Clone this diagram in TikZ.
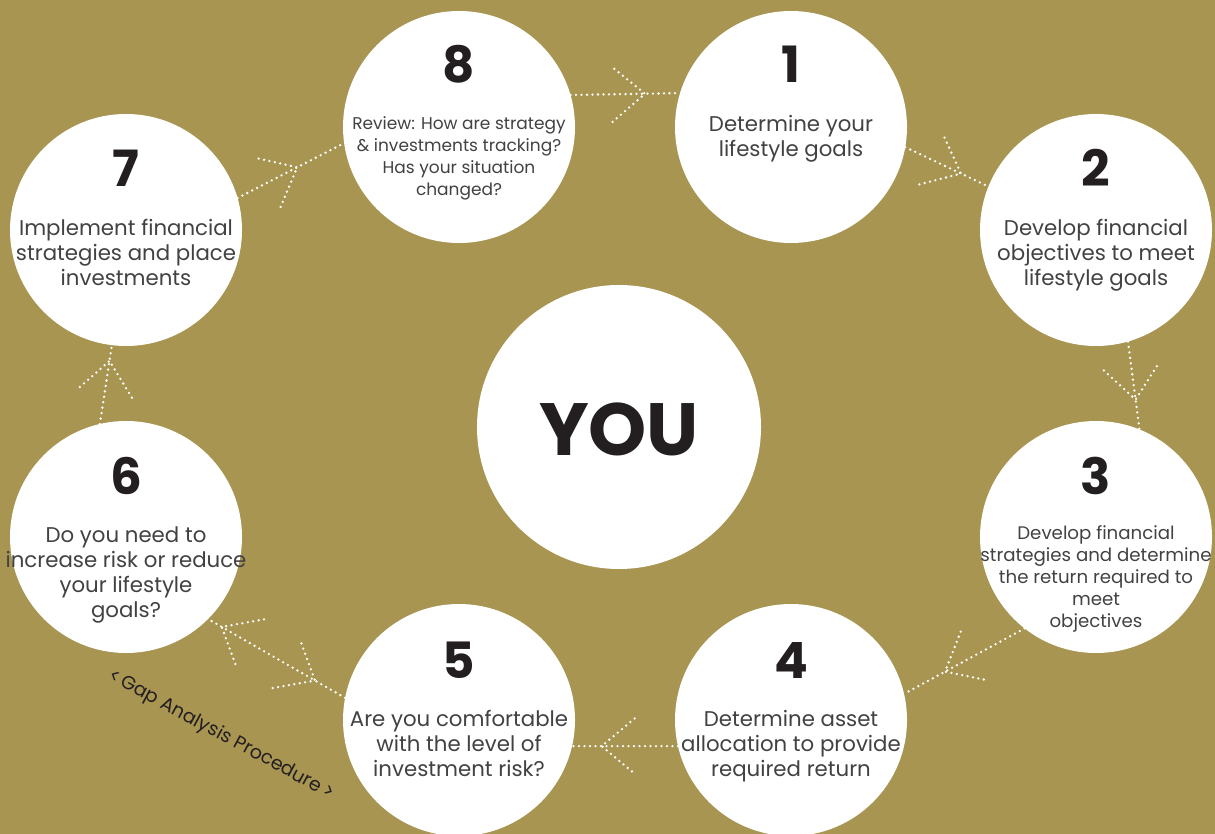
\documentclass[tikz,border=0pt]{standalone}
\usepackage{fontspec}
\setmainfont{Poppins}
\usetikzlibrary{calc}
\definecolor{bg}{RGB}{168,149,82}
\definecolor{txt}{RGB}{66,66,66}
\definecolor{num}{RGB}{35,31,32}
\tikzset{
  stepcircle/.style={circle, fill=white, minimum size=232pt, inner sep=0pt, outer sep=0pt},
  numlabel/.style={anchor=base, inner sep=0pt, font=\fontsize{50}{50}\selectfont\bfseries, text=num},
  desc/.style={anchor=north, align=center, inner sep=0pt, font=\fontsize{21.3}{25}\selectfont, text=txt},
  descsmall/.style={anchor=north, align=center, inner sep=0pt, font=\fontsize{17}{22}\selectfont, text=txt},
  dotline/.style={draw=white, line width=2.6pt, line cap=round, dash pattern=on 0pt off 5.5pt},
}
\newcommand{\dotarrow}[3]{%
  \draw[dotline] (#1) -- (#2);
  \coordinate (tip) at ($(#1)!#3!(#2)$);
  \draw[dotline] ($(tip)!43pt!40:(#1)$) -- (tip) -- ($(tip)!43pt!-40:(#1)$);
}
\newcommand{\dothead}[3]{%
  \coordinate (tip) at ($(#1)!#3!(#2)$);
  \draw[dotline] ($(tip)!43pt!40:(#1)$) -- (tip) -- ($(tip)!43pt!-40:(#1)$);
}
\begin{document}
\begin{tikzpicture}[x=1pt,y=-1pt]
\fill[bg] (0,0) rectangle (1215,834);
\useasboundingbox (0,0) rectangle (1215,834);

% circles
\node[stepcircle] (c1) at (791,127) {};
\node[stepcircle] (c2) at (1096,230) {};
\node[stepcircle] (c3) at (1096,537) {};
\node[stepcircle] (c4) at (791,720) {};
\node[stepcircle] (c5) at (459,720) {};
\node[stepcircle] (c6) at (126,537) {};
\node[stepcircle] (c7) at (126,230) {};
\node[stepcircle] (c8) at (459,127) {};
\node[circle, fill=white, minimum size=284pt, inner sep=0pt] (you) at (619,427) {};
\node[anchor=base, inner sep=0pt, font=\fontsize{74}{74}\selectfont\bfseries, text=num] (youtxt) at (619,455) {YOU};

% numbers
\node[numlabel] (n1) at (791,83) {1};
\node[numlabel] (n2) at (1096,187) {2};
\node[numlabel] (n3) at (1096,494) {3};
\node[numlabel] (n4) at (791,678) {4};
\node[numlabel] (n5) at (459,678) {5};
\node[numlabel] (n6) at (126,494) {6};
\node[numlabel] (n7) at (126,187) {7};
\node[numlabel] (n8) at (459,83) {8};

% texts
\node[desc] (t1) at (791,115.5) {Determine your\\lifestyle goals};
\node[desc] (t2) at (1096,219.5) {Develop financial\\objectives to meet\\lifestyle goals};
\node[descsmall, font=\fontsize{18.2}{22}\selectfont] (t3) at (1096,525) {Develop financial\\strategies and determine\\the return required to\\meet\\objectives};
\node[desc] (t4) at (791,710.5) {Determine asset\\allocation to provide\\required return};
\node[desc] (t5) at (459,710) {Are you comfortable\\with the level of\\investment risk?};
\node[desc] (t6) at (126,526.5) {Do you need to\\increase risk or reduce\\your lifestyle\\goals?};
\node[desc] (t7) at (126,219.5) {Implement financial\\strategies and place\\investments};
\node[descsmall] (t8) at (459,116.5) {Review: How are strategy\\\& investments tracking?\\Has your situation\\changed?};

% connector end points
\coordinate (p81) at (c8.16.5);  \coordinate (q81) at (c1.163.7);
\coordinate (p12) at (c1.-10);   \coordinate (q12) at (c2.158.7);
\coordinate (p23) at (c2.-74.5); \coordinate (q23) at (c3.68);
\coordinate (p34) at (c3.-128.8);\coordinate (q34) at (c4.13);
\coordinate (p45) at (c4.193);   \coordinate (q45) at (c5.-13);
\coordinate (p56) at (c5.169);   \coordinate (q56) at (c6.-45.7);
\coordinate (p67) at (c6.103);   \coordinate (q67) at (c7.-97.7);
\coordinate (p78) at (c7.16.8);  \coordinate (q78) at (c8.188);

\dotarrow{p81}{q81}{0.68}
\dotarrow{p12}{q12}{0.67}
\dotarrow{p23}{q23}{0.66}
\dotarrow{p34}{q34}{0.66}
\dotarrow{p45}{q45}{0.72}
\draw[dotline] (p56) -- (q56);
\dothead{p56}{q56}{0.90}
\dothead{q56}{p56}{0.78}
\dotarrow{p67}{q67}{0.80}
\dotarrow{p78}{q78}{0.56}

\node[rotate=-28.3, inner sep=0pt, font=\fontsize{19}{19}\selectfont, text=num] (gap) at (221,735) {<\,Gap Analysis Procedure\,>};
\end{tikzpicture}
\end{document}
